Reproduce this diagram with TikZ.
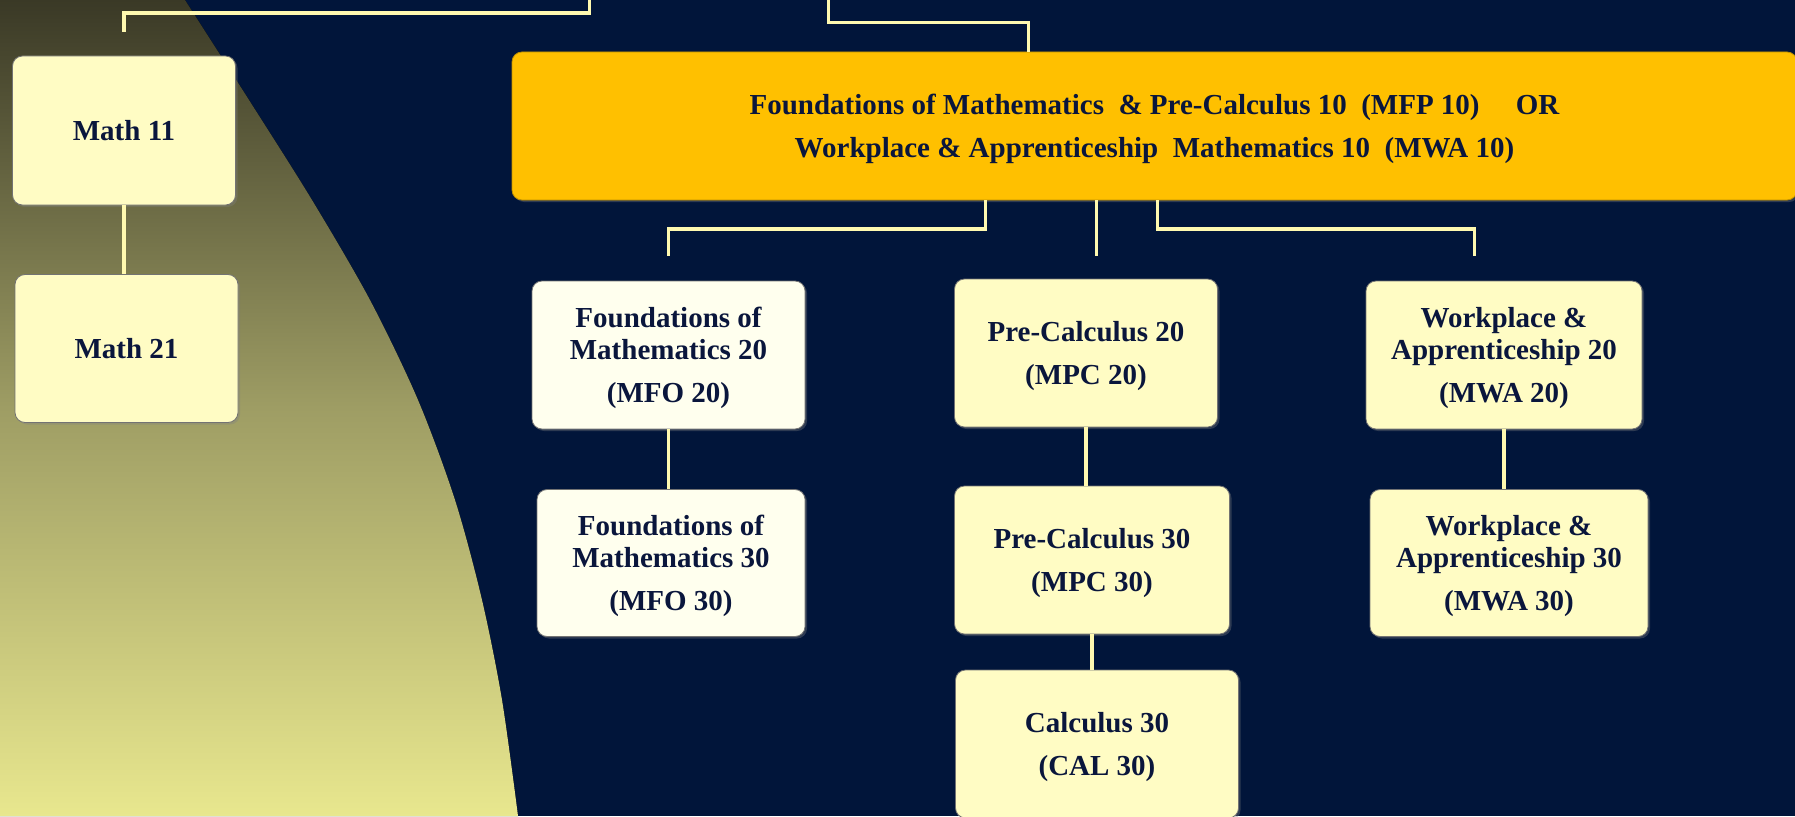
\documentclass[tikz,border=0pt]{standalone}
\usepackage{fontspec}
\setmainfont{Liberation Serif}
\usepackage{tikz}
\usetikzlibrary{shadows,positioning}
\definecolor{navy}{RGB}{1,21,58}
\definecolor{ink}{RGB}{10,22,60}
\definecolor{gold}{RGB}{255,192,0}
\definecolor{cream}{RGB}{255,252,196}
\definecolor{paper}{RGB}{255,255,238}
\definecolor{wire}{RGB}{255,249,176}
\definecolor{olivetop}{RGB}{58,57,38}
\definecolor{olivemid}{RGB}{158,157,100}
\definecolor{olivebot}{RGB}{232,231,142}
\tikzset{course/.style={draw=black!55,line width=0.8pt,fill=cream,rounded corners=10pt,align=center,text=ink,inner sep=0pt,text depth=-3pt,font=\fontsize{29}{32}\selectfont\bfseries,drop shadow={opacity=0.35,shadow xshift=2pt,shadow yshift=-2pt}}}

\begin{document}
\begin{tikzpicture}[x=1pt,y=-1pt,link/.style={draw=wire,line width=3.5pt}]
                \def\gap{11pt}
                \clip (0,0) rectangle (1795,816);
                \fill[navy] (0,0) rectangle (1795,816);
                \fill[top color=olivetop,bottom color=olivebot,middle color=olivemid]
                    (0,0) -- plot[smooth,tension=0.5] coordinates {(185,0) (249,100) (312,200) (370,300) (418,400) (455,500) (482,600) (502,700) (518,816)} -- (0,816) -- cycle;
                \node [course,minimum width=223pt,minimum height=149pt] (m11) at (124,130.5) {Math 11};
                \node [course,minimum width=223pt,minimum height=148pt] (m21) at (126.5,348.5) {Math 21};
                \node [course,fill=gold,draw=gold!75!black,minimum width=1285pt,minimum height=148pt,text depth=0pt,
                    font=\fontsize{29}{43.5}\selectfont\bfseries] (mfp10) at (1154.5,126)
                    {Foundations of Mathematics~ \& Pre-Calculus 10~ (MFP 10)~~~~~OR\\
                     Workplace \& Apprenticeship~ Mathematics 10~ (MWA 10)};
                \node [course,fill=paper,minimum width=273pt,minimum height=148pt] (mfo20) at (668.5,355)
                    {Foundations of\\Mathematics 20\\[\gap](MFO 20)};
                \node [course,minimum width=263pt,minimum height=148pt] (mpc20) at (1086,353)
                    {Pre-Calculus 20\\[\gap](MPC 20)};
                \node [course,minimum width=276pt,minimum height=148pt] (mwa20) at (1504,355)
                    {Workplace \&\\Apprenticeship 20\\[\gap](MWA 20)};
                \node [course,fill=paper,minimum width=268pt,minimum height=147pt] (mfo30) at (671,563)
                    {Foundations of\\Mathematics 30\\[\gap](MFO 30)};
                \node [course,minimum width=275pt,minimum height=148pt] (mpc30) at (1092,560)
                    {Pre-Calculus 30\\[\gap](MPC 30)};
                \node [course,minimum width=278pt,minimum height=147pt] (mwa30) at (1509,563)
                    {Workplace \&\\Apprenticeship 30\\[\gap](MWA 30)};
                \node [course,minimum width=283pt,minimum height=148pt] (cal30) at (1097,744)
                    {Calculus 30\\[\gap](CAL 30)};
                \coordinate (top1) at (589.5,-5);
                \coordinate (top1end) at (124,32);
                \coordinate (top2) at (828.7,-5);
                \coordinate (mfoin) at (668.6,256);
                \coordinate (mpcin) at (1096.5,256);
                \coordinate (mwain) at (1474.7,256);
                \draw [link] (top1) -- ++(0,18) -| (top1end);
                \draw [link] (top2) -- ++(0,27.3) -| ([xshift=-125.9pt]mfp10.north);
                \draw [link] ([xshift=-168.8pt]mfp10.south) -- ++(0,28.7) -| (mfoin);
                \draw [link] ([xshift=-58pt]mfp10.south) -- (mpcin);
                \draw [link] ([xshift=3pt]mfp10.south) -- ++(0,28.7) -| (mwain);
                \draw [link] (m11.south) -- (m11.south |- m21.north);
                \draw [link] (mfo20.south) -- (mfo20.south |- mfo30.north);
                \draw [link] (mpc20.south) -- (mpc20.south |- mpc30.north);
                \draw [link] (mpc30.south) -- (mpc30.south |- cal30.north);
                \draw [link] (mwa20.south) -- (mwa20.south |- mwa30.north);
            \end{tikzpicture}
\end{document}
